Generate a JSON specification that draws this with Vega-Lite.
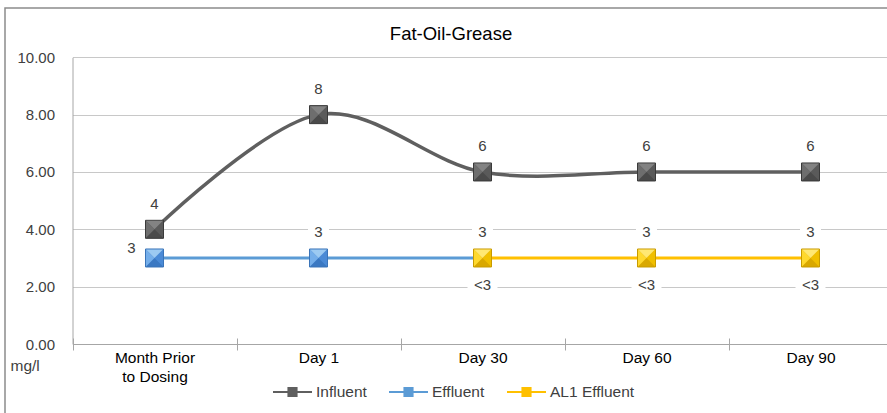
{
  "$schema": "https://vega.github.io/schema/vega-lite/v6.json",
  "width": 900,
  "height": 420,
  "autosize": {"type": "none"},
  "padding": {"left": 5, "top": 8, "right": -18, "bottom": -15},
  "background": "white",
  "config": {
    "font": "Liberation Sans",
    "view": {"stroke": "#8c8c8c", "strokeWidth": 1.5}
  },
  "title": {
    "text": "Fat-Oil-Grease",
    "fontSize": 18.5,
    "fontWeight": "normal",
    "color": "#000000",
    "anchor": "middle",
    "frame": "group",
    "offset": -35,
    "dx": -4
  },
  "datasets": {
    "series": [
      {"period": "Month Prior to Dosing", "series": "Influent", "value": 4},
      {"period": "Day 1", "series": "Influent", "value": 8},
      {"period": "Day 30", "series": "Influent", "value": 6},
      {"period": "Day 60", "series": "Influent", "value": 6},
      {"period": "Day 90", "series": "Influent", "value": 6},
      {"period": "Month Prior to Dosing", "series": "Effluent", "value": 3},
      {"period": "Day 1", "series": "Effluent", "value": 3},
      {"period": "Day 30", "series": "Effluent", "value": 3},
      {"period": "Day 30", "series": "AL1 Effluent", "value": 3},
      {"period": "Day 60", "series": "AL1 Effluent", "value": 3},
      {"period": "Day 90", "series": "AL1 Effluent", "value": 3}
    ],
    "labels": [
      {"period": "Month Prior to Dosing", "series": "Influent", "value": 4, "label": "4"},
      {"period": "Day 1", "series": "Influent", "value": 8, "label": "8"},
      {"period": "Day 30", "series": "Influent", "value": 6, "label": "6"},
      {"period": "Day 60", "series": "Influent", "value": 6, "label": "6"},
      {"period": "Day 90", "series": "Influent", "value": 6, "label": "6"},
      {"period": "Month Prior to Dosing", "series": "Effluent", "value": 3, "label": "3"},
      {"period": "Day 1", "series": "Effluent", "value": 3, "label": "3"},
      {"period": "Day 30", "series": "Effluent", "value": 3, "label": "3"},
      {"period": "Day 60", "series": "Effluent", "value": 3, "label": "3"},
      {"period": "Day 90", "series": "Effluent", "value": 3, "label": "3"},
      {"period": "Day 30", "series": "AL1 Effluent", "value": 3, "label": "<3"},
      {"period": "Day 60", "series": "AL1 Effluent", "value": 3, "label": "<3"},
      {"period": "Day 90", "series": "AL1 Effluent", "value": 3, "label": "<3"}
    ]
  },
  "encoding": {
    "x": {
      "field": "period",
      "type": "ordinal",
      "sort": ["Month Prior to Dosing", "Day 1", "Day 30", "Day 60", "Day 90"],
      "scale": {"type": "band", "range": [67.5, 887.5], "paddingInner": 0, "paddingOuter": 0},
      "axis": {
        "title": null,
        "domain": false,
        "grid": false,
        "tickBand": "extent",
        "tickSize": 12,
        "tickColor": "#a6a6a6",
        "offset": -90,
        "labelAngle": 0,
        "labelFontSize": 15.5,
        "labelColor": "#000000",
        "labelPadding": 0,
        "labelLineHeight": 19.5,
        "labelOverlap": false,
        "labelBound": false,
        "labelFlush": false,
        "labelExpr": "datum.value == 'Month Prior to Dosing' ? ['Month Prior', 'to Dosing\u00a0\u00a0\u00a0\u00a0'] : datum.value"
      }
    },
    "y": {
      "field": "value",
      "type": "quantitative",
      "scale": {"domain": [0, 10], "range": [336, 49.3], "nice": false},
      "axis": {
        "values": [0, 2, 4, 6, 8, 10],
        "format": ".2f",
        "offset": -67.5,
        "ticks": false,
        "domainColor": "#a6a6a6",
        "gridColor": {"condition": {"test": "datum.value === 0", "value": "#a6a6a6"}, "value": "#c8c8c8"},
        "labelFontSize": 15,
        "labelColor": "#404040",
        "labelPadding": 18,
        "title": "mg/l",
        "titleAngle": 0,
        "titleAlign": "left",
        "titleBaseline": "middle",
        "titleX": -62.5,
        "titleY": 357,
        "titleFontSize": 15.5,
        "titleFontWeight": "normal",
        "titleColor": "#404040"
      }
    }
  },
  "layer": [
    {
      "data": {"name": "series"},
      "transform": [{"filter": "datum.series == 'Influent'"}],
      "mark": {"type": "line", "interpolate": "cardinal", "tension": 0, "strokeWidth": 3.5},
      "encoding": {
        "color": {
          "field": "series",
          "type": "nominal",
          "scale": {"domain": ["Influent", "Effluent", "AL1 Effluent"], "range": ["#5f5f5f", "#5b9bd5", "#ffc000"]},
          "legend": {
            "orient": "none",
            "legendX": 268,
            "legendY": 364.5,
            "direction": "horizontal",
            "title": null,
            "symbolType": "M-1,-0.05H1V0.05H-1Z M-0.26,-0.26H0.26V0.26H-0.26Z",
            "symbolSize": 1521,
            "symbolStrokeWidth": 0,
            "labelFontSize": 15.5,
            "labelColor": "#404040",
            "labelOffset": 4,
            "columnPadding": 22,
            "padding": 0,
            "encode": {"symbols": {"update": {"fill": {"scale": "color", "field": "value"}, "strokeWidth": {"value": 0}, "opacity": {"value": 1}}}}
          }
        }
      }
    },
    {
      "data": {"name": "series"},
      "transform": [{"filter": "datum.series != 'Influent'"}],
      "mark": {"type": "line", "strokeWidth": 3},
      "encoding": {"color": {"field": "series", "type": "nominal"}}
    },
    {
      "data": {"name": "series"},
      "transform": [{"filter": "!(datum.series == 'Effluent' && datum.period == 'Day 30')"}],
      "mark": {"type": "point", "shape": "square", "filled": true, "size": 324, "opacity": 1, "strokeWidth": 1},
      "encoding": {
        "fill": {"condition": [{"test": "datum.series == 'Influent'", "value": "#4a4a4a"}, {"test": "datum.series == 'Effluent'", "value": "#3a78c2"}], "value": "#d9a800"},
        "stroke": {"condition": [{"test": "datum.series == 'Influent'", "value": "#3a3a3a"}, {"test": "datum.series == 'Effluent'", "value": "#3a74b8"}], "value": "#c89b00"}
      }
    },
    {
      "data": {"name": "series"},
      "transform": [{"filter": "!(datum.series == 'Effluent' && datum.period == 'Day 30')"}],
      "mark": {"type": "point", "shape": "M1,-1L1,1L0,0Z", "filled": true, "size": 290, "opacity": 1, "strokeWidth": 0},
      "encoding": {
        "fill": {"condition": [{"test": "datum.series == 'Influent'", "value": "#5a5a5a"}, {"test": "datum.series == 'Effluent'", "value": "#4a8ad6"}], "value": "#f0bf00"}
      }
    },
    {
      "data": {"name": "series"},
      "transform": [{"filter": "!(datum.series == 'Effluent' && datum.period == 'Day 30')"}],
      "mark": {"type": "point", "shape": "M-1,-1L0,0L-1,1Z", "filled": true, "size": 290, "opacity": 1, "strokeWidth": 0},
      "encoding": {
        "fill": {"condition": [{"test": "datum.series == 'Influent'", "value": "#6e6e6e"}, {"test": "datum.series == 'Effluent'", "value": "#74aeea"}], "value": "#ffd92e"}
      }
    },
    {
      "data": {"name": "series"},
      "transform": [{"filter": "!(datum.series == 'Effluent' && datum.period == 'Day 30')"}],
      "mark": {"type": "point", "shape": "M-1,-1L1,-1L0,0Z", "filled": true, "size": 290, "opacity": 1, "strokeWidth": 0},
      "encoding": {
        "fill": {"condition": [{"test": "datum.series == 'Influent'", "value": "#838383"}, {"test": "datum.series == 'Effluent'", "value": "#9ccaf2"}], "value": "#ffe873"}
      }
    },
    {
      "data": {"name": "labels"},
      "transform": [{"filter": "datum.series == 'Effluent' && datum.period != 'Month Prior to Dosing'"}],
      "mark": {"type": "point", "shape": "M-1,-0.7H1V0.7H-1Z", "filled": true, "size": 441, "fill": "white", "opacity": 1, "strokeWidth": 0, "yOffset": -26},
      "encoding": {}
    },
    {
      "data": {"name": "labels"},
      "transform": [{"filter": "datum.series == 'AL1 Effluent'"}],
      "mark": {"type": "point", "shape": "M-1,-0.47H1V0.47H-1Z", "filled": true, "size": 900, "fill": "white", "opacity": 1, "strokeWidth": 0, "yOffset": 27},
      "encoding": {}
    },
    {
      "data": {"name": "labels"},
      "transform": [{"filter": "datum.series == 'Influent' || (datum.series == 'Effluent' && datum.period != 'Month Prior to Dosing')"}],
      "mark": {"type": "text", "fontSize": 15, "color": "#404040", "baseline": "middle", "dy": -25.5},
      "encoding": {"text": {"field": "label"}}
    },
    {
      "data": {"name": "labels"},
      "transform": [{"filter": "datum.series == 'Effluent' && datum.period == 'Month Prior to Dosing'"}],
      "mark": {"type": "text", "fontSize": 15, "color": "#404040", "baseline": "middle", "dx": -23, "dy": -10},
      "encoding": {"text": {"field": "label"}}
    },
    {
      "data": {"name": "labels"},
      "transform": [{"filter": "datum.series == 'AL1 Effluent'"}],
      "mark": {"type": "text", "fontSize": 15, "color": "#404040", "baseline": "middle", "dy": 27},
      "encoding": {"text": {"field": "label"}}
    }
  ]
}
